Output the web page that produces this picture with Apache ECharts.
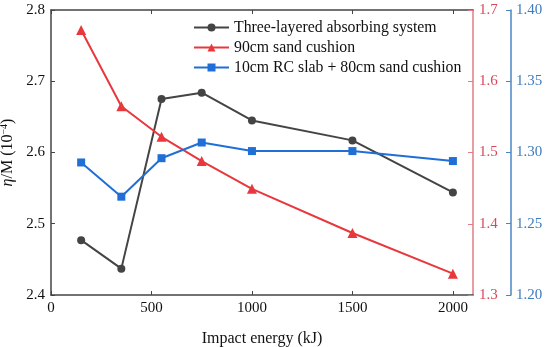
<!DOCTYPE html>
<html>
<head>
<meta charset="utf-8">
<script src="https://cdn.jsdelivr.net/npm/echarts@6/dist/echarts.min.js"></script>
<style>html,body{margin:0;padding:0;background:#fff}#c{width:550px;height:347px}</style>
</head>
<body>
<div id="c"></div>
<script>
const energies = [150, 350, 550, 750, 1000, 1500, 2000];
const threeLayered = [2.477, 2.437, 2.675, 2.684, 2.645, 2.617, 2.544];
const sand90 = [1.672, 1.565, 1.522, 1.488, 1.449, 1.387, 1.330];
const rcSlab = [1.293, 1.269, 1.296, 1.307, 1.301, 1.301, 1.294];
const xTicks = [0, 500, 1000, 1500, 2000];
const seriesNames = ['Three-layered absorbing system', '90cm sand cushion', '10cm RC slab + 80cm sand cushion'];

const font = '"Liberation Serif", "Times New Roman", serif';
const dark = '#444444';
const red = '#e8383d';
const redAxis = '#e07c84';
const redLabel = '#d9475a';
const blue = '#1f6fd6';
const blueAxis = '#4a86c5';
const blueLabel = '#3f7cbf';
const tickFs = 15;
const nameFs = 16;

const pair = (xs, ys) => xs.map((x, i) => [x, ys[i]]);

const chart = echarts.init(document.getElementById('c'), null, {renderer: 'canvas'});
chart.setOption({
  animation: false,
  backgroundColor: '#fff',
  textStyle: {fontFamily: font},
  grid: {left: 51, right: 77, top: 10, bottom: 52, containLabel: false, outerBoundsMode: 'none'},
  legend: {
    left: 188, top: 14, orient: 'vertical',
    itemWidth: 35, itemHeight: 10, itemGap: 3,
    textStyle: {fontFamily: font, fontSize: 15.8, color: '#111', lineHeight: 17},
    data: seriesNames
  },
  xAxis: [{
    type: 'value', min: 0, max: 2100, interval: 500,
    name: 'Impact energy (kJ)', nameLocation: 'middle', nameGap: 36,
    nameTextStyle: {fontFamily: font, fontSize: nameFs, color: '#111'},
    axisLine: {show: true, onZero: false, lineStyle: {color: dark, width: 1.5}},
    axisTick: {show: true, inside: true, length: 4, lineStyle: {color: dark}, customValues: xTicks},
    axisLabel: {fontFamily: font, fontSize: tickFs, color: '#111', margin: 6, customValues: xTicks, formatter: v => String(v)},
    splitLine: {show: false}
  }, {
    type: 'value', position: 'top', min: 0, max: 2100, interval: 500,
    axisLine: {show: true, onZero: false, lineStyle: {color: dark, width: 1.5}},
    axisTick: {show: true, inside: true, length: 4, lineStyle: {color: dark}, customValues: xTicks},
    axisLabel: {show: false},
    splitLine: {show: false}
  }],
  yAxis: [{
    type: 'value', position: 'left', min: 2.4, max: 2.8, interval: 0.1,
    name: '{i|η}/M (10{s|−4})', nameLocation: 'middle', nameGap: 33,
    nameTextStyle: {fontFamily: font, fontSize: nameFs, color: '#111', lineHeight: 16,
      rich: {i: {fontStyle: 'italic', fontFamily: font, fontSize: nameFs, color: '#111', lineHeight: 16},
             s: {fontSize: 10, verticalAlign: 'top', fontFamily: font, color: '#111', lineHeight: 10}}},
    axisLine: {show: true, onZero: false, lineStyle: {color: dark, width: 1.5}},
    axisTick: {show: true, inside: true, length: 4, lineStyle: {color: dark}},
    axisLabel: {fontFamily: font, fontSize: tickFs, color: '#111', margin: 6, formatter: v => v.toFixed(1)},
    splitLine: {show: false}
  }, {
    type: 'value', position: 'right', min: 1.3, max: 1.7, interval: 0.1,
    axisLine: {show: true, onZero: false, lineStyle: {color: redAxis, width: 1.5}},
    axisTick: {show: true, inside: true, length: 5, lineStyle: {color: redAxis}},
    axisLabel: {fontFamily: font, fontSize: tickFs, color: redLabel, margin: 6, formatter: v => v.toFixed(1)},
    splitLine: {show: false}
  }, {
    type: 'value', position: 'right', offset: 38, min: 1.2, max: 1.4, interval: 0.05,
    axisLine: {show: true, onZero: false, lineStyle: {color: blueAxis, width: 1.5}},
    axisTick: {show: true, inside: true, length: 5, lineStyle: {color: blueAxis}},
    axisLabel: {fontFamily: font, fontSize: tickFs, color: blueLabel, margin: 5, formatter: v => v.toFixed(2)},
    splitLine: {show: false}
  }],
  series: [{
    name: seriesNames[0], type: 'line', yAxisIndex: 0,
    data: pair(energies, threeLayered),
    symbol: 'circle', symbolSize: 8,
    lineStyle: {color: dark, width: 2}, itemStyle: {color: dark}
  }, {
    name: seriesNames[1], type: 'line', yAxisIndex: 1,
    data: pair(energies, sand90),
    symbol: 'triangle', symbolSize: 10,
    lineStyle: {color: red, width: 2}, itemStyle: {color: red}
  }, {
    name: seriesNames[2], type: 'line', yAxisIndex: 2,
    data: pair(energies, rcSlab),
    symbol: 'rect', symbolSize: 8,
    lineStyle: {color: blue, width: 2}, itemStyle: {color: blue}
  }]
});
</script>
</body>
</html>
